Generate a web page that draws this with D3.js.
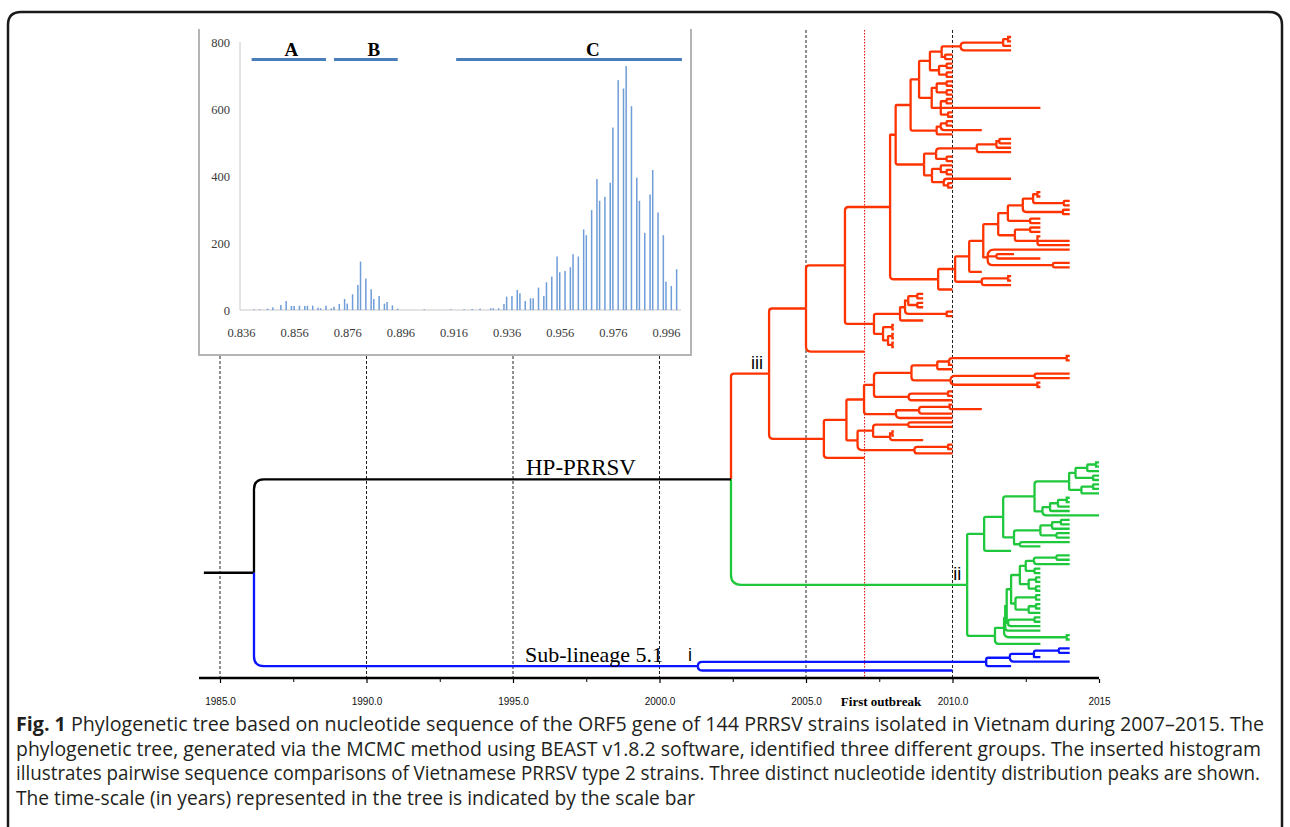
<!DOCTYPE html>
<html lang="en">
<head>
<meta charset="utf-8" />
<title>Fig. 1 PRRSV phylogeny</title>
<script src="https://cdnjs.cloudflare.com/ajax/libs/d3/7.8.5/d3.min.js"></script>
<style>
    body { margin: 0; background: #fff; }
    svg { display: block; }
</style>
</head>
<body>
<svg id="fig" width="1290" height="827"></svg>
<script>
    // ---------------- inset histogram: pairwise nucleotide identity ----------------
    var identity = [0.841, 0.843, 0.846, 0.848, 0.851, 0.853, 0.855, 0.856, 0.858, 0.860,
        0.861, 0.863, 0.865, 0.866, 0.868, 0.870, 0.871, 0.873, 0.875, 0.876,
        0.878, 0.880, 0.881, 0.883, 0.885, 0.886, 0.888, 0.890, 0.891, 0.893,
        0.895, 0.905, 0.915, 0.920, 0.923, 0.926,
        0.930, 0.931, 0.933, 0.935, 0.936, 0.938, 0.940, 0.941, 0.943, 0.945,
        0.946, 0.948, 0.950, 0.951, 0.953, 0.955, 0.956, 0.958, 0.960, 0.961,
        0.963, 0.965, 0.966, 0.968, 0.970, 0.971, 0.973, 0.975, 0.976, 0.978,
        0.980, 0.981, 0.983, 0.985, 0.986, 0.988, 0.990, 0.991, 0.993, 0.995,
        0.996, 0.998, 1.000];
    var pairs = [2, 2, 4, 8, 15, 27, 12, 12, 13, 12,
        13, 13, 7, 5, 13, 5, 10, 18, 33, 19,
        47, 75, 145, 94, 62, 33, 42, 19, 24, 14,
        4, 2, 2, 2, 3, 4,
        5, 5, 5, 18, 40, 42, 60, 50, 27, 35,
        35, 67, 42, 83, 100, 160, 113, 117, 128, 167,
        160, 241, 224, 299, 392, 327, 339, 381, 546, 688,
        663, 730, 610, 396, 327, 231, 346, 419, 292, 224,
        85, 72, 122];
    var histTicksX = [0.836, 0.856, 0.876, 0.896, 0.916, 0.936, 0.956, 0.976, 0.996];
    var histTicksY = [0, 200, 400, 600, 800];
    var groupNames = ["A", "B", "C"];
    var groupFrom = [0.840, 0.871, 0.917];
    var groupTo = [0.868, 0.895, 1.002];
    var groupLabelAt = [0.855, 0.886, 0.9685];

    // ---------------- time scale ----------------
    var yearTicks = [1985, 1990, 1995, 2000, 2005, 2010, 2015];
    var yearLabels = ["1985.0", "1990.0", "1995.0", "2000.0", "2005.0", "2010.0", "2015"];
    var minorYears = [1987.5, 1992.5, 1997.5, 2002.5, 2007.5, 2012.5];
    var insetGuides = [1985, 1990, 1995, 2000];
    var fullGuides = [2005, 2010];
    var outbreakYear = 2007;

    // ---------------- tree: [node date, children...], a bare number is a tip date ----------------
    var cladeIII = [2003.74,
        [2005.0,
            [2006.33,
                [2007.87,
                    [2008.06,
                        [2008.57,
                            [2008.86,
                                [2009.23,
                                    [2009.63,
                                        [2010.28, [2011.73, [2011.9, 2012.0, 2012.0], 2012.0], 2012.0],
                                        [2009.75, 2010.0, 2010.0]],
                                    [2009.54, [2009.8, 2010.0, 2010.0], [2009.8, 2010.0, 2010.0]]],
                                [2009.29,
                                    [2009.46, [2009.8, 2010.0, 2010.0], [2009.8, 2010.0, 2010.0]],
                                    [2009.6, [2009.8, 2010.0, 2010.0], 2013.0, [2009.85, 2010.0, 2010.0]]]],
                            [2009.46, [2009.6, [2009.8, 2010.0, 2010.0], 2011.0], 2010.0]],
                        [2009.03,
                            [2009.44,
                                [2010.83, [2011.5, [2011.6, 2012.0, 2012.0], 2012.0], 2012.0],
                                [2009.8, 2010.0, 2010.0]],
                            [2009.3,
                                [2009.6, 2010.0, [2009.8, 2010.0, 2010.0]],
                                [2009.7, 2012.0, [2009.85, 2010.0, 2010.0]]]]],
                    [2009.51,
                        [2010.09,
                            [2010.57,
                                [2011.05,
                                    [2011.56,
                                        [2011.89,
                                            [2012.4,
                                                [2012.75, [2012.9, 2013.0, 2013.0], [2013.8, 2014.0, 2014.0]],
                                                [2013.77, 2014.0, 2014.0]],
                                            [2012.65, 2013.0, 2013.0]],
                                        [2012.13, [2012.65, 2013.0, 2013.0], [2012.9, 2013.0, 2014.0, 2014.0]]],
                                    [2011.2, 2014.0, [2011.5, 2012.1, 2013.0], [2013.43, 2014.0, 2014.0]]],
                                2011.0],
                            [2011.0, [2011.9, 2012.0, 2012.0], 2012.0]],
                        2010.0]],
                [2007.32,
                    [2008.21,
                        [2008.38, [2008.49, [2008.8, 2009.0, 2009.0], [2008.8, 2009.0, 2009.0]], [2009.8, 2010.0, 2010.0]],
                        2009.0],
                    [2007.63, [2007.95, 2008.0, 2008.0], [2007.8, [2007.95, 2008.0, 2008.0], [2007.95, 2008.0, 2008.0]]]]],
            2007.0],
        [2005.61,
            [2006.38,
                [2006.98,
                    [2007.32,
                        [2008.6,
                            [2009.48, [2009.88, [2013.9, 2014.0, 2014.0], 2010.0], 2010.0],
                            [2009.93, [2012.8, 2014.0, 2014.0], [2012.9, 2013.0, 2013.0]]],
                        [2008.5, [2009.85, 2010.0, 2010.0], 2010.0]],
                    [2008.07, [2008.86, [2009.9, 2010.0, 2011.0], 2010.0], 2010.0]],
                [2006.76,
                    [2007.29, [2008.49, 2010.0, 2010.0], [2007.87, [2007.95, 2008.0, 2008.0], 2009.0]],
                    [2008.7, [2009.85, 2010.0, 2010.0], 2010.0]]],
            2007.0]];

    var cladeII = [2010.5,
        [2011.08,
            [2011.73,
                [2012.8,
                    [2013.98,
                        [2014.2, [2014.6, [2014.9, 2015.0, 2015.0], 2015.0], [2014.8, 2015.0, 2015.0]],
                        [2014.4, [2014.8, 2015.0, 2015.0], 2015.0]],
                    [2013.07, [2013.33, [2013.6, [2013.9, 2014.0, 2014.0], 2014.0], 2014.0], 2015.0]],
                [2012.1,
                    [2013.0, [2013.4, [2013.7, 2014.0, 2014.0], 2014.0], [2013.55, 2014.0, 2014.0]],
                    [2012.3, 2014.0, 2013.0]]],
            2012.0],
        [2011.45,
            [2011.76,
                [2011.8,
                    [2011.85,
                        [2012.0,
                            [2012.3,
                                [2012.5, [2012.78, [2013.55, 2014.0, 2014.0], 2014.0], [2012.8, 2013.0, 2013.0]],
                                [2012.6, [2012.85, 2013.0, 2013.0], [2012.85, 2013.0, 2013.0]]],
                            [2012.15, [2012.85, 2013.0, 2013.0], [2012.6, [2012.85, 2013.0, 2013.0], 2013.0]]],
                        [2011.9, [2012.8, 2013.0, 2013.0], 2013.0]],
                    2013.0],
                [2013.9, 2014.0, 2014.0]],
            2013.0]];

    var cladeI = [2001.31,
        [2011.15,
            [2011.96,
                [2012.78, [2013.63, 2014.0, 2014.0], 2013.0],
                2014.0],
            2012.0],
        2010.0];

    var hpNode = [2002.44, cladeIII, cladeII];
    var tree = [1986.16, hpNode, cladeI];
    var rootStubFrom = 1984.45;

    var cladeColor = { root: "#000", hp: "#000", iii: "#ff3300", ii: "#1ec73c", i: "#0a14ff" };

    var caption = [
        [["Fig. 1", true], [" Phylogenetic tree based on nucleotide sequence of the ORF5 gene of 144 PRRSV strains isolated in Vietnam during 2007\u20132015. The", false]],
        [["phylogenetic tree, generated via the MCMC method using BEAST v1.8.2 software, identified three different groups. The inserted histogram", false]],
        [["illustrates pairwise sequence comparisons of Vietnamese PRRSV type 2 strains. Three distinct nucleotide identity distribution peaks are shown.", false]],
        [["The time-scale (in years) represented in the tree is indicated by the scale bar", false]]
    ];
    var captionWidths = [1248, 1245, 1244, null];

    // ---------------------------------------------------------------------------------------------
    var svg = d3.select("#fig");
    var serif = "'Liberation Serif', 'Times New Roman', serif";

    // figure frame
    svg.append("path")
        .attr("d", "M8,830 V25 Q8,12 21,12 H1269 Q1282,12 1282,25 V830")
        .attr("fill", "none").attr("stroke", "#1a1a1a").attr("stroke-width", 2.5);

    var x = d3.scaleLinear().domain([1985, 2015]).range([220, 1099]);
    var axisY = 678;

    // guide lines
    svg.selectAll("line.guide").data(insetGuides).enter().append("line")
        .attr("class", "guide")
        .attr("x1", function (d) { return x(d); }).attr("x2", function (d) { return x(d); })
        .attr("y1", 356).attr("y2", axisY)
        .attr("stroke", "#222").attr("stroke-width", 1).attr("stroke-dasharray", "3,2");
    svg.selectAll("line.guide2").data(fullGuides).enter().append("line")
        .attr("class", "guide2")
        .attr("x1", function (d) { return x(d); }).attr("x2", function (d) { return x(d); })
        .attr("y1", 30).attr("y2", axisY)
        .attr("stroke", "#222").attr("stroke-width", 1).attr("stroke-dasharray", "3,2");
    svg.append("line")
        .attr("x1", x(outbreakYear)).attr("x2", x(outbreakYear))
        .attr("y1", 30).attr("y2", axisY)
        .attr("stroke", "#e00000").attr("stroke-width", 1).attr("stroke-dasharray", "1.5,1.5");

    // ---------------- histogram inset ----------------
    var hx = d3.scaleLinear().domain([0.836, 0.996]).range([241, 666]);
    var hy = d3.scaleLinear().domain([0, 800]).range([310, 42.7]);
    var inset = svg.append("g");

    inset.append("path")
        .attr("d", "M199,29 V355 H691 V29")
        .attr("fill", "none").attr("stroke", "#b4b4b4").attr("stroke-width", 2);
    inset.append("line").attr("x1", 240).attr("x2", 240).attr("y1", 42).attr("y2", 310)
        .attr("stroke", "#c8c8c8").attr("stroke-width", 1);
    inset.append("line").attr("x1", 240).attr("x2", 681).attr("y1", 310).attr("y2", 310)
        .attr("stroke", "#c8c8c8").attr("stroke-width", 1);

    inset.selectAll("rect.bar").data(identity).enter().append("rect")
        .attr("class", "bar")
        .attr("x", function (d) { return hx(d) - 0.75; })
        .attr("width", 1.5)
        .attr("y", function (d, i) { return hy(pairs[i]); })
        .attr("height", function (d, i) { return hy(0) - hy(pairs[i]); })
        .attr("fill", "#6f9dd8");

    var yAxis = d3.axisLeft(hy).tickValues(histTicksY).tickSize(0).tickPadding(10);
    var gy = inset.append("g").attr("transform", "translate(240,0)").call(yAxis);
    var xAxis = d3.axisBottom(hx).tickValues(histTicksX).tickSize(0).tickPadding(18).tickFormat(d3.format(".3f"));
    var gx = inset.append("g").attr("transform", "translate(0,310)").call(xAxis);
    [gy, gx].forEach(function (g) {
        g.select(".domain").remove();
        g.selectAll("text").attr("font-family", serif).attr("font-size", 12.5).attr("fill", "#3a3a3a");
    });

    inset.selectAll("line.grp").data(groupNames).enter().append("line")
        .attr("class", "grp")
        .attr("x1", function (d, i) { return hx(groupFrom[i]); })
        .attr("x2", function (d, i) { return hx(groupTo[i]); })
        .attr("y1", 59.5).attr("y2", 59.5)
        .attr("stroke", "#4a7ebb").attr("stroke-width", 3);
    inset.selectAll("text.grp").data(groupNames).enter().append("text")
        .attr("class", "grp")
        .attr("x", function (d, i) { return hx(groupLabelAt[i]); })
        .attr("y", 56)
        .attr("text-anchor", "middle")
        .attr("font-family", serif).attr("font-weight", "bold").attr("font-size", 19)
        .text(function (d) { return d; });

    // ---------------- tree layout ----------------
    var leafCount = 0;
    function build(src, parent, clade) {
        var n = { parent: parent, clade: clade, children: [] };
        if (typeof src === "number") {
            n.t = src;
            n.leaf = leafCount++;
        } else {
            n.t = src[0];
            src.slice(1).forEach(function (c) {
                var cl = clade;
                if (c === hpNode) cl = "hp";
                else if (c === cladeIII) cl = "iii";
                else if (c === cladeII) cl = "ii";
                else if (c === cladeI) cl = "i";
                n.children.push(build(c, n, cl));
            });
        }
        if (src === cladeIII || src === cladeII || src === cladeI) n.label = clade;
        return n;
    }
    var root = build(tree, null, "root");
    var y = d3.scaleLinear().domain([0, leafCount - 1]).range([37, 670.5]);

    var nodes = [];
    function place(n) {
        if (n.children.length === 0) {
            n.y = y(n.leaf);
        } else {
            n.children.forEach(place);
            n.y = (n.children[0].y + n.children[n.children.length - 1].y) / 2;
        }
        nodes.push(n);
    }
    place(root);

    function branchPath(n) {
        var p = n.parent;
        var x0 = x(p.t), y0 = p.y, x1 = x(n.t), y1 = n.y;
        var dy = y1 - y0;
        var r = Math.min(10, (x1 - x0) * 0.08, Math.abs(dy));
        if (Math.abs(dy) < 0.01 || r < 0.3) return "M" + x0 + "," + y0 + "V" + y1 + "H" + x1;
        var s = dy > 0 ? 1 : -1;
        return "M" + x0 + "," + y0 + "V" + (y1 - s * r) +
            "Q" + x0 + "," + y1 + " " + (x0 + r) + "," + y1 + "H" + x1;
    }

    var treeG = svg.append("g");
    treeG.append("line")
        .attr("x1", x(rootStubFrom)).attr("x2", x(root.t))
        .attr("y1", root.y).attr("y2", root.y)
        .attr("stroke", "#000").attr("stroke-width", 2.4);
    treeG.selectAll("path.branch").data(nodes.filter(function (n) { return n.parent; })).enter()
        .append("path")
        .attr("class", "branch")
        .attr("d", branchPath)
        .attr("fill", "none")
        .attr("stroke", function (n) { return cladeColor[n.clade]; })
        .attr("stroke-width", 2.3);

    treeG.selectAll("text.clade").data(nodes.filter(function (n) { return n.label; })).enter()
        .append("text")
        .attr("class", "clade")
        .attr("x", function (n) { return x(n.t) - 6; })
        .attr("y", function (n) { return n.y - 5; })
        .attr("text-anchor", "end")
        .attr("font-family", "'Liberation Sans', Arial, sans-serif")
        .attr("font-size", 18)
        .text(function (n) { return n.label; });

    svg.append("text").attr("x", 526).attr("y", 475)
        .attr("font-family", serif).attr("font-size", 23).text("HP-PRRSV");
    svg.append("text").attr("x", 525).attr("y", 662)
        .attr("font-family", serif).attr("font-size", 22).text("Sub-lineage 5.1");

    // ---------------- time axis ----------------
    svg.append("line").attr("x1", 199).attr("x2", x(2015)).attr("y1", axisY).attr("y2", axisY)
        .attr("stroke", "#000").attr("stroke-width", 2.5);
    var tAxis = d3.axisBottom(x).tickValues(yearTicks).tickSize(4).tickPadding(15)
        .tickFormat(function (d, i) { return yearLabels[i]; });
    var ga = svg.append("g").attr("transform", "translate(0," + (axisY + 1) + ")").call(tAxis);
    ga.select(".domain").remove();
    ga.selectAll("line").attr("stroke-width", 1.2);
    ga.selectAll("text").attr("font-family", "'Liberation Sans Narrow', 'Arial Narrow', sans-serif")
        .attr("font-size", 10).attr("fill", "#111");
    var mAxis = d3.axisBottom(x).tickValues(minorYears).tickSize(3).tickFormat("");
    var gm = svg.append("g").attr("transform", "translate(0," + (axisY + 1) + ")").call(mAxis);
    gm.select(".domain").remove();
    gm.selectAll("line").attr("stroke-width", 1);

    svg.append("text").attr("x", 881).attr("y", 706)
        .attr("text-anchor", "middle")
        .attr("font-family", serif).attr("font-weight", "bold").attr("font-size", 13)
        .text("First outbreak");

    // ---------------- caption ----------------
    var capG = svg.append("g").attr("font-family", "'Open Sans', 'Noto Sans', sans-serif")
        .attr("font-size", 19.2).attr("fill", "#231f20");
    caption.forEach(function (line, i) {
        var t = capG.append("text").attr("x", 16).attr("y", 731 + i * 24.5);
        if (captionWidths[i]) t.attr("textLength", captionWidths[i]).attr("lengthAdjust", "spacingAndGlyphs");
        line.forEach(function (part) {
            t.append("tspan").attr("font-weight", part[1] ? "bold" : null).text(part[0]);
        });
    });
</script>
</body>
</html>
